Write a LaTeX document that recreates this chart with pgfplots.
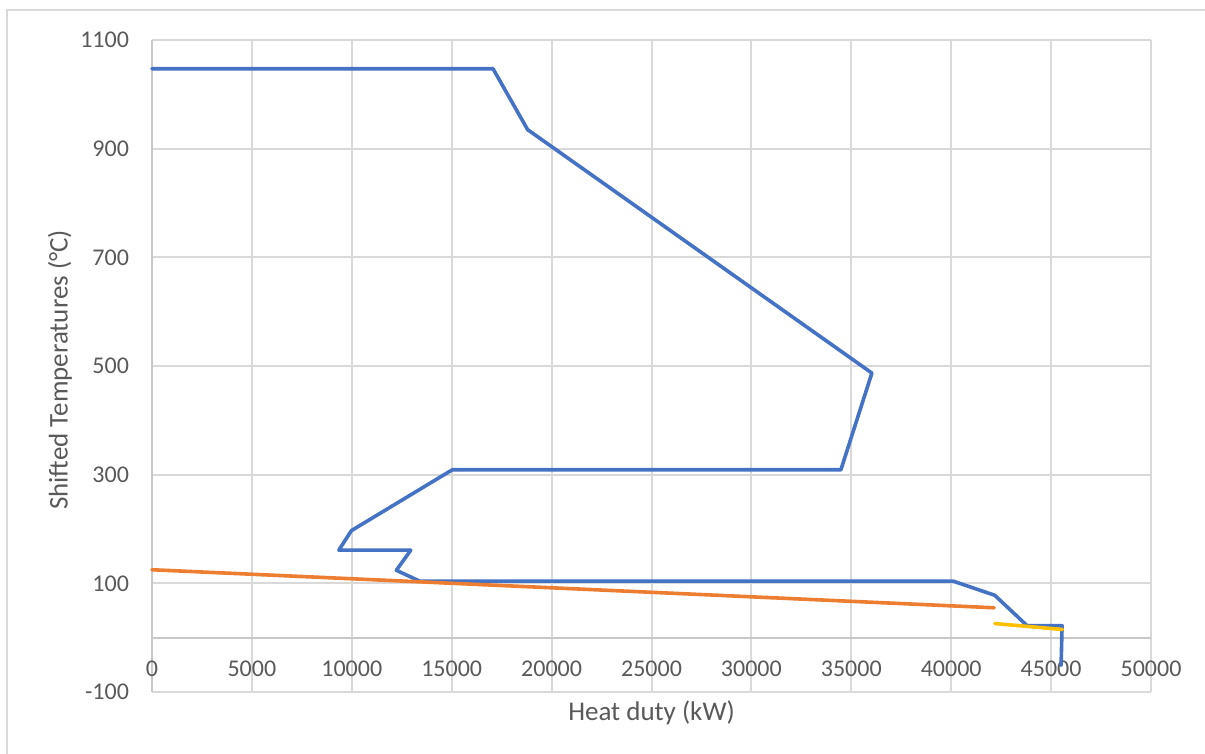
\documentclass[border=0pt]{standalone}
\usepackage{pgfplots}
\pgfplotsset{compat=1.18}
\usepackage{fontspec}
\setmainfont{Carlito}
\definecolor{cblue}{HTML}{4472C4}
\definecolor{corange}{HTML}{ED7D31}
\definecolor{cyellow}{HTML}{FFC000}
\definecolor{cgrid}{HTML}{D9D9D9}
\definecolor{caxis}{HTML}{C8C8C8}
\definecolor{ctext}{HTML}{595959}
\begin{document}
\begin{tikzpicture}
\useasboundingbox (0,0) rectangle (602.5pt,377pt);
\draw[cgrid, line width=0.7pt] (3.5pt,0) -- (3.5pt,372pt) -- (602.5pt,372pt);
\begin{axis}[
  at={(76pt,31pt)}, anchor=south west,
  scale only axis, width=499.5pt, height=326pt,
  xmin=0, xmax=50000, ymin=-100, ymax=1100,
  xtick={0,5000,...,50000},
  ytick={-100,100,300,500,700,900,1100},
  axis x line=middle, axis y line=left,
  hide obscured x ticks=false, hide obscured y ticks=false,
  axis line style={-, draw=caxis, line width=1pt},
  major tick length=0pt,
  grid=major,
  major grid style={draw=cgrid, line width=1pt},
  scaled x ticks=false, scaled y ticks=false,
  /pgf/number format/assume math mode=true,
  /pgf/number format/set thousands separator={},
  tick label style={font=\fontsize{12pt}{14pt}\selectfont, text=ctext},
  xticklabel style={anchor=north, yshift=-8pt},
  yticklabel style={anchor=east, xshift=-8pt},
  xlabel={Heat duty (kW)},
  ylabel={Shifted Temperatures (°C)},
  label style={font=\fontsize{13.5pt}{16pt}\selectfont, text=ctext},
  xlabel style={at={(axis description cs:0.5,0)}, anchor=north, yshift=-1pt},
  ylabel style={at={(axis description cs:-0.0921,0.494)}, anchor=center},
  clip=false,
  every axis plot/.append style={line width=1.8pt, line join=round, line cap=round},
]
\addplot[cblue] coordinates {
(0,1047) (17070,1047) (18800,935) (36030,487) (34480,309) (15030,309)
(9980,197) (9350,161) (12950,161) (12230,124) (13400,104) (40100,104)
(42180,78) (43800,22) (45550,22) (45500,-51)
};
\addplot[corange] coordinates {(0,125) (42150,55)};
\addplot[cyellow] coordinates {(42180,26) (45570,15)};
\end{axis}
\end{tikzpicture}
\end{document}
